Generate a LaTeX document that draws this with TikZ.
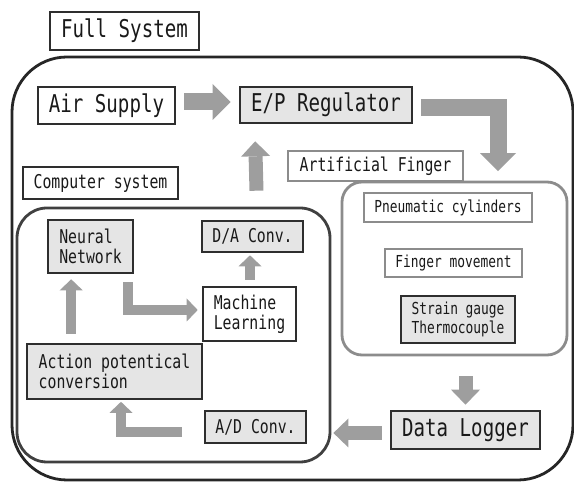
\documentclass[tikz,border=0pt]{standalone}
\usepackage{fontspec}
\setmainfont{DejaVu Sans Mono}[FakeStretch=0.78]
\usetikzlibrary{arrows.meta,calc}

\tikzset{
  darkbox/.style={draw=black!82, line width=2.6pt, fill=white, inner sep=0pt, text=black!90},
  shadebox/.style={darkbox, fill=black!10},
  greybox/.style={draw=black!45, line width=2.4pt, fill=white, inner sep=0pt, text=black!90},
  groupbox/.style={draw=#1, line width=2.8pt, inner sep=0pt},
  bigfont/.style={font=\fontsize{24.5}{26}\selectfont},
  midfont/.style={font=\fontsize{19}{20}\selectfont},
  smallfont/.style={font=\fontsize{16.5}{19}\selectfont},
  fatarrow/.style={draw=black!38, line join=miter, line cap=butt},
  bigarrow/.style={fatarrow, line width=17pt, -{Triangle[length=18pt,width=36pt,line width=0pt]}},
  midarrow/.style={fatarrow, line width=14pt, -{Triangle[length=15pt,width=29pt,line width=0pt]}},
  smallarrow/.style={fatarrow, line width=10pt, -{Triangle[length=11pt,width=23pt,line width=0pt]}}
}

\begin{document}
\begin{tikzpicture}[x=1pt,y=1pt]
  \useasboundingbox (0,0) rectangle (574,482);

  % frames
  \node[groupbox=black!85, rounded corners=55pt, minimum width=561pt, minimum height=423pt] (full) at (292.5,213.5) {};
  \node[groupbox=black!75, rounded corners=30pt, minimum width=313pt, minimum height=254pt] (comp) at (173.5,147) {};
  \node[groupbox=black!45, rounded corners=20pt, minimum width=225pt, minimum height=173pt] (finger) at (454.5,213.5) {};

  % labels of the frames
  \node[darkbox, bigfont, minimum width=149pt, minimum height=38pt] (fulllabel) at (124.5,451) {Full System};
  \node[darkbox, midfont, minimum width=155pt, minimum height=32pt] (complabel) at (100.5,299) {Computer system};
  \node[greybox, midfont, minimum width=175pt, minimum height=30pt] (fingerlabel) at (375.5,316) {Artificial Finger};

  % top row
  \node[darkbox, bigfont, minimum width=137pt, minimum height=37pt] (air) at (106.5,376.5) {Air Supply};
  \node[shadebox, bigfont, minimum width=172pt, minimum height=36pt] (ep) at (326,377) {E/P Regulator};

  % artificial finger
  \node[greybox, smallfont, minimum width=168pt, minimum height=29pt] (pneu) at (448,274.5) {Pneumatic cylinders};
  \node[greybox, smallfont, minimum width=137pt, minimum height=28pt] (move) at (453.5,219) {Finger movement};
  \node[shadebox, smallfont, align=center, minimum width=114pt, minimum height=47pt] (sensor) at (458,162.5) {Strain gauge\\Thermocouple};
  \node[shadebox, bigfont, minimum width=149pt, minimum height=38pt] (dl) at (465.5,52) {Data Logger};

  % computer system
  \node[shadebox, midfont, align=left, minimum width=85pt, minimum height=53pt] (nn) at (90.5,235.5) {Neural\\Network};
  \node[shadebox, midfont, minimum width=101pt, minimum height=31pt] (da) at (252.5,245.5) {D/A Conv.};
  \node[darkbox, midfont, align=left, minimum width=93pt, minimum height=54pt] (ml) at (249.5,168) {Machine\\Learning};
  \node[shadebox, midfont, align=left, minimum width=175pt, minimum height=55pt] (apc) at (114.5,110.5) {Action potentical\\conversion};
  \node[shadebox, midfont, minimum width=101pt, minimum height=32pt] (ad) at (255.5,55) {A/D Conv.};

  % air path
  \draw[bigarrow] ($(air.east)+(8,3.5)$) -- ($(ep.west)+(-8,3)$);
  \draw[midarrow] ($(da.north)+(4,29)$) -- ($(ep.south west)+(16.5,-17)$);
  \draw[bigarrow] ($(ep.east)+(8,-2.5)$) -| ($(finger.north)+(43.5,9.5)$);

  % measurement back to the computer
  \draw[midarrow] ($(finger.south)+(11,-20)$) -- ($(dl.north)+(0,5)$);
  \draw[midarrow] ($(dl.west)+(-8,-3)$) -- ($(comp.east |- dl.west)+(2,-3)$);

  % inside the computer system
  \draw[smallarrow] ($(ad.west)+(-22,-5)$) -| ($(apc.south)+(6.5,-1.5)$);
  \draw[smallarrow] ($(apc.north west)+(45.5,9)$) -- ($(nn.south west)+(24.5,-5)$);
  \draw[smallarrow] ($(nn.south east)+(-6.5,-8)$) |- ($(ml.west)+(-4,4)$);
  \draw[smallarrow] ($(ml.north)+(0.5,6)$) -- ($(ml.north |- da.south)+(0.5,-2)$);
\end{tikzpicture}
\end{document}
